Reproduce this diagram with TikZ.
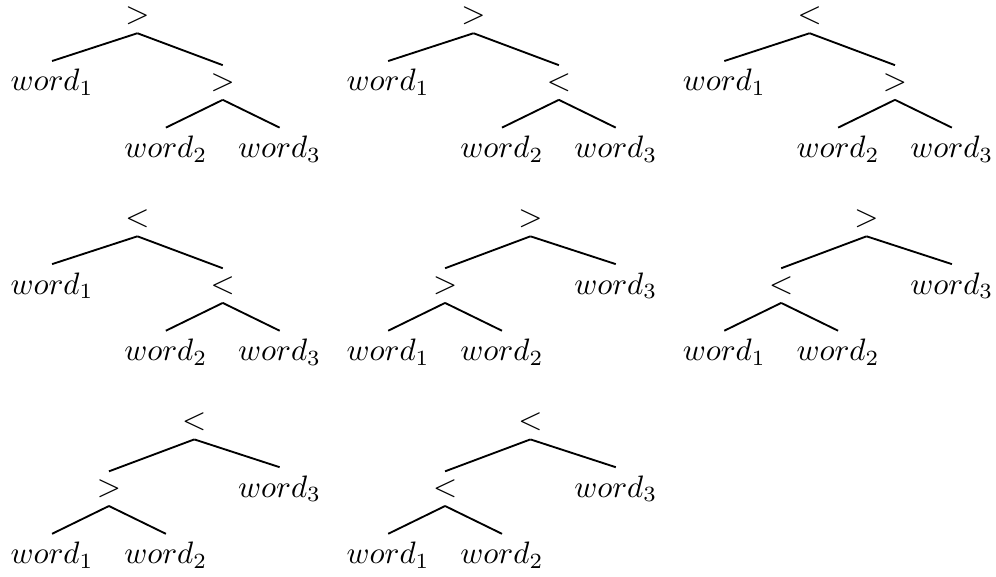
\documentclass[tikz,border=0pt]{standalone}

\begin{document}
\begin{tikzpicture}[
	opnode/.style={inner sep=2.5pt},
	wordnode/.style={inner sep=2.5pt},
	branch/.style={black, line width=0.6pt}
]
\useasboundingbox (0,0) rectangle (11.29,-6.54);

% first row: word_1 hangs off the root
\begin{scope}[shift={(0,0)}]
	\node[opnode] (root1) at (1.5575,-0.18) {$>$};
	\node[wordnode] (single1) at (0.59,-0.935) {$word_1$};
	\node[opnode] (inner1) at (2.525,-0.935) {$>$};
	\node[wordnode] (left1) at (1.88,-1.69) {$word_2$};
	\node[wordnode] (right1) at (3.17,-1.69) {$word_3$};
\end{scope}
\begin{scope}[shift={(3.81,0)}]
	\node[opnode] (root2) at (1.5575,-0.18) {$>$};
	\node[wordnode] (single2) at (0.59,-0.935) {$word_1$};
	\node[opnode] (inner2) at (2.525,-0.935) {$<$};
	\node[wordnode] (left2) at (1.88,-1.69) {$word_2$};
	\node[wordnode] (right2) at (3.17,-1.69) {$word_3$};
\end{scope}
\begin{scope}[shift={(7.62,0)}]
	\node[opnode] (root3) at (1.5575,-0.18) {$<$};
	\node[wordnode] (single3) at (0.59,-0.935) {$word_1$};
	\node[opnode] (inner3) at (2.525,-0.935) {$>$};
	\node[wordnode] (left3) at (1.88,-1.69) {$word_2$};
	\node[wordnode] (right3) at (3.17,-1.69) {$word_3$};
\end{scope}

% second row
\begin{scope}[shift={(0,-2.302)}]
	\node[opnode] (root4) at (1.5575,-0.18) {$<$};
	\node[wordnode] (single4) at (0.59,-0.935) {$word_1$};
	\node[opnode] (inner4) at (2.525,-0.935) {$<$};
	\node[wordnode] (left4) at (1.88,-1.69) {$word_2$};
	\node[wordnode] (right4) at (3.17,-1.69) {$word_3$};
\end{scope}
% from here on word_3 hangs off the root
\begin{scope}[shift={(3.81,-2.302)}]
	\node[opnode] (root5) at (2.2025,-0.18) {$>$};
	\node[opnode] (inner5) at (1.235,-0.935) {$>$};
	\node[wordnode] (single5) at (3.17,-0.935) {$word_3$};
	\node[wordnode] (left5) at (0.59,-1.69) {$word_1$};
	\node[wordnode] (right5) at (1.88,-1.69) {$word_2$};
\end{scope}
\begin{scope}[shift={(7.62,-2.302)}]
	\node[opnode] (root6) at (2.2025,-0.18) {$>$};
	\node[opnode] (inner6) at (1.235,-0.935) {$<$};
	\node[wordnode] (single6) at (3.17,-0.935) {$word_3$};
	\node[wordnode] (left6) at (0.59,-1.69) {$word_1$};
	\node[wordnode] (right6) at (1.88,-1.69) {$word_2$};
\end{scope}

% third row
\begin{scope}[shift={(0,-4.604)}]
	\node[opnode] (root7) at (2.2025,-0.18) {$<$};
	\node[opnode] (inner7) at (1.235,-0.935) {$>$};
	\node[wordnode] (single7) at (3.17,-0.935) {$word_3$};
	\node[wordnode] (left7) at (0.59,-1.69) {$word_1$};
	\node[wordnode] (right7) at (1.88,-1.69) {$word_2$};
\end{scope}
\begin{scope}[shift={(3.81,-4.604)}]
	\node[opnode] (root8) at (2.2025,-0.18) {$<$};
	\node[opnode] (inner8) at (1.235,-0.935) {$<$};
	\node[wordnode] (single8) at (3.17,-0.935) {$word_3$};
	\node[wordnode] (left8) at (0.59,-1.69) {$word_1$};
	\node[wordnode] (right8) at (1.88,-1.69) {$word_2$};
\end{scope}

% branches, same for both shapes
\foreach \t in {1,...,8} {
	\draw[branch] (root\t.south) -- (single\t.north);
	\draw[branch] (root\t.south) -- (inner\t.north);
	\draw[branch] (inner\t.south) -- (left\t.north);
	\draw[branch] (inner\t.south) -- (right\t.north);
}
\end{tikzpicture}
\end{document}
